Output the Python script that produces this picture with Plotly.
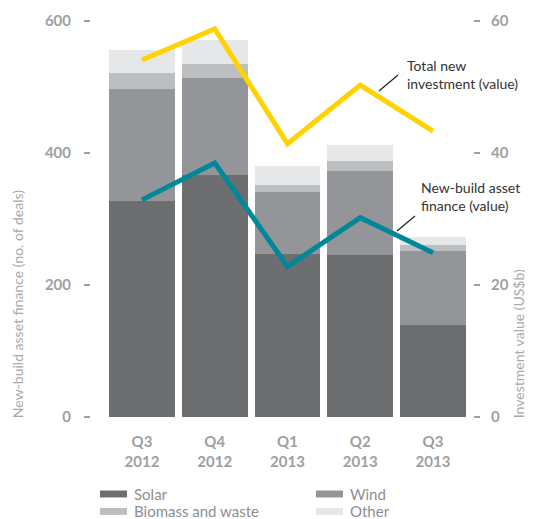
import plotly.graph_objects as go

quarters = ["Q3<br>2012", "Q4<br>2012", "Q1<br>2013", "Q2<br>2013", "Q3<br>2013"]
solar = [327, 367, 247, 245, 139]
wind = [170, 147, 94, 128, 112]
biomass = [24, 21, 11, 15, 10]
other = [35, 36, 28, 24, 12]
total_investment = [54.1, 58.8, 41.4, 50.3, 43.3]
asset_finance = [32.9, 38.5, 22.8, 30.2, 24.9]

left_ticks = [0, 200, 400, 600]
right_ticks = [0, 20, 40, 60]

FONT = "Lato"
GREY_TXT = "#9d9fa2"

fig = go.Figure()
for name, vals, col in [("Solar", solar, "#6d6e70"), ("Wind", wind, "#939598"),
                        ("Biomass and waste", biomass, "#bcbec0"), ("Other", other, "#e6e7e8")]:
    fig.add_trace(go.Bar(x=quarters, y=vals, name=name, marker=dict(color=col, line=dict(width=0)),
                         showlegend=False))

fig.add_trace(go.Scatter(x=quarters, y=total_investment, yaxis="y2", mode="lines",
                         line=dict(color="#ffd200", width=5), showlegend=False, cliponaxis=False))
fig.add_trace(go.Scatter(x=quarters, y=asset_finance, yaxis="y2", mode="lines",
                         line=dict(color="#00889a", width=5), showlegend=False, cliponaxis=False))

fig.update_layout(
    width=525, height=511,
    margin=dict(l=82, r=60, t=13, b=102),
    paper_bgcolor="white", plot_bgcolor="white",
    barmode="stack", bargap=0.096,
    font=dict(family=FONT, color=GREY_TXT),
    xaxis=dict(domain=[0.0407, 0.9906], showgrid=False, showline=False, zeroline=False, automargin=False,
               ticks="", ticklabelstandoff=14,
               tickfont=dict(family=FONT, size=15, color=GREY_TXT, weight="bold")),
    yaxis=dict(range=[0, 600], tickvals=left_ticks, ticktext=[str(v) for v in left_ticks],
               showgrid=False, zeroline=False, showline=False, anchor="free", position=0, automargin=False,
               ticks="outside", ticklen=6, tickwidth=1.5, tickcolor=GREY_TXT, ticklabelstandoff=10,
               tickfont=dict(family=FONT, size=15, color=GREY_TXT, weight="bold")),
    yaxis2=dict(range=[0, 60], tickvals=right_ticks, ticktext=[str(v) for v in right_ticks],
                overlaying="y", side="right", anchor="free", position=1, automargin=False,
                showgrid=False, zeroline=False, showline=False,
                ticks="outside", ticklen=6, tickwidth=1.5, tickcolor=GREY_TXT, ticklabelstandoff=8,
                tickfont=dict(family=FONT, size=15, color=GREY_TXT, weight="bold")),
)

shapes = [
    dict(type="line", xref="paper", yref="paper", x0=0.7546, y0=0.8232, x1=0.8042, y1=0.8636,
         line=dict(color="#222222", width=1.2)),
    dict(type="line", xref="paper", yref="paper", x0=0.8016, y0=0.4697, x1=0.8486, y1=0.5076,
         line=dict(color="#222222", width=1.2)),
]
annotations = [
    dict(text="Total new<br>investment (value)", xref="paper", yref="paper", x=0.8225, y=0.865,
         xanchor="left", yanchor="middle", align="left", showarrow=False,
         font=dict(family=FONT, size=14, color="#333333")),
    dict(text="New-build asset<br>finance (value)", xref="paper", yref="paper", x=0.859, y=0.558,
         xanchor="left", yanchor="middle", align="left", showarrow=False,
         font=dict(family=FONT, size=14, color="#333333")),
    dict(text="New-build asset finance (no. of deals)", xref="paper", yref="paper", x=-0.1906, y=-0.008,
         xanchor="center", yanchor="bottom", textangle=-90, showarrow=False,
         font=dict(family=FONT, size=14, color="#a7a9ac")),
    dict(text="Investment value (US$b)", xref="paper", yref="paper", x=1.119, y=-0.008,
         xanchor="center", yanchor="bottom", textangle=-90, showarrow=False,
         font=dict(family=FONT, size=14, color="#a7a9ac")),
]

legend_items = [("Solar", "#6d6e70", 0.0261, 0.1097, -0.1944), ("Wind", "#939598", 0.590, 0.6736, -0.1944),
                ("Biomass and waste", "#bcbec0", 0.0261, 0.1097, -0.2384), ("Other", "#e6e7e8", 0.590, 0.6736, -0.2384)]
for label, col, sx, tx, yy in legend_items:
    shapes.append(dict(type="rect", xref="paper", yref="paper", x0=sx, x1=sx + 0.0705,
                       y0=yy - 0.0088, y1=yy + 0.0088, fillcolor=col, line=dict(width=0)))
    annotations.append(dict(text=label, xref="paper", yref="paper", x=tx, y=yy, xanchor="left",
                            yanchor="middle", showarrow=False,
                            font=dict(family=FONT, size=15, color="#8d8f92")))

fig.update_layout(shapes=shapes, annotations=annotations)
fig.write_html("out.html")
